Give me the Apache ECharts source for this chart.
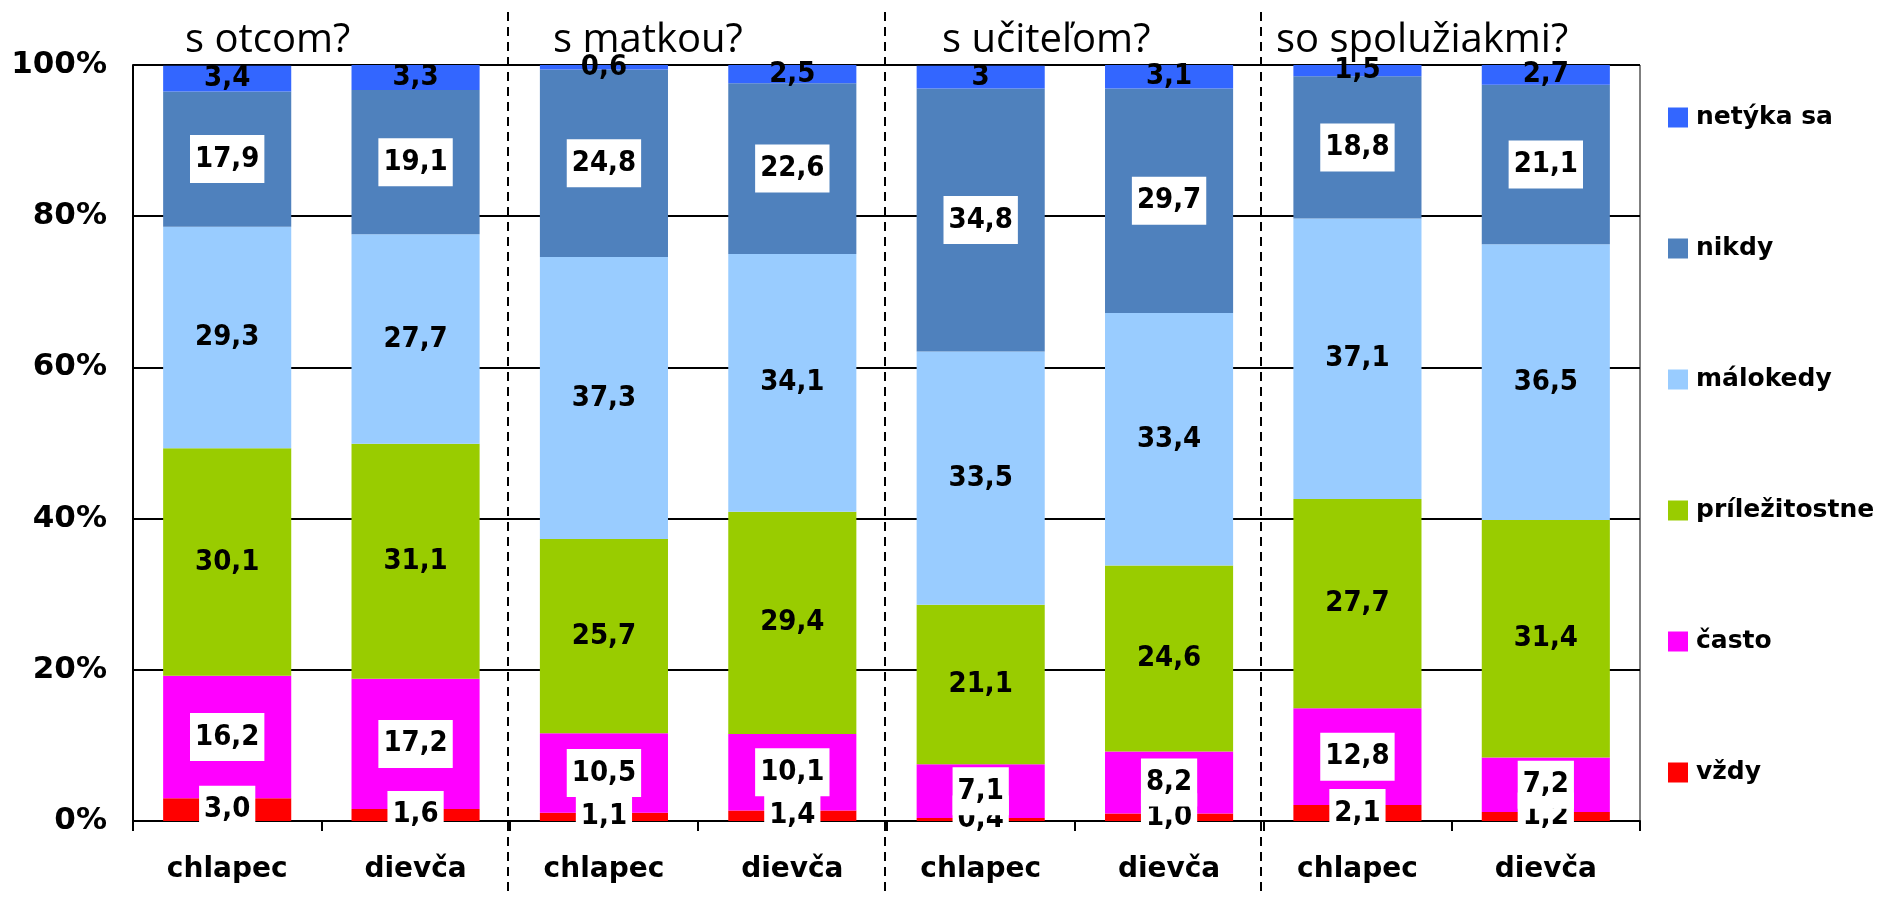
<!DOCTYPE html>
<html>
<head>
<meta charset="utf-8">
<script src="https://cdn.jsdelivr.net/npm/echarts@6/dist/echarts.min.js"></script>
<style>
html,body{margin:0;padding:0;background:#fff;}
#chart{width:1886px;height:897px;}
</style>
</head>
<body>
<div id="chart"></div>
<script>
// ---- data ----
const categories = ['chlapec', 'dievča', 'chlapec', 'dievča', 'chlapec', 'dievča', 'chlapec', 'dievča'];
const groupTitles = ['s otcom?', 's matkou?', 's učiteľom?', 'so spolužiakmi?'];
const yTicks = [0, 20, 40, 60, 80, 100];

const vzdy          = [3.0, 1.6, 1.1, 1.4, 0.4, 1.0, 2.1, 1.2];
const casto         = [16.2, 17.2, 10.5, 10.1, 7.1, 8.2, 12.8, 7.2];
const prilezitostne = [30.1, 31.1, 25.7, 29.4, 21.1, 24.6, 27.7, 31.4];
const malokedy      = [29.3, 27.7, 37.3, 34.1, 33.5, 33.4, 37.1, 36.5];
const nikdy         = [17.9, 19.1, 24.8, 22.6, 34.8, 29.7, 18.8, 21.1];
const netyka        = [3.4, 3.3, 0.6, 2.5, 3, 3.1, 1.5, 2.7];

const seriesDefs = [
  { name: 'vždy',          data: vzdy,          color: '#FF0000', box: true,  fmt: 'fixed' },
  { name: 'často',         data: casto,         color: '#FF00FF', box: true,  fmt: 'fixed' },
  { name: 'príležitostne', data: prilezitostne, color: '#99CC00', box: false, fmt: 'fixed' },
  { name: 'málokedy',      data: malokedy,      color: '#99CCFF', box: false, fmt: 'fixed' },
  { name: 'nikdy',         data: nikdy,         color: '#4F81BD', box: true,  fmt: 'fixed' },
  { name: 'netýka sa',     data: netyka,        color: '#3366FF', box: false, fmt: 'raw' }
];

const labelFont = "'DejaVu Sans Condensed', 'DejaVu Sans', sans-serif";
const axisFont = "'DejaVu Sans', sans-serif";

const chart = echarts.init(document.getElementById('chart'), null, { renderer: 'canvas' });

const series = seriesDefs.map(function (d) {
  const label = {
    show: true,
    position: 'inside',
    color: '#000',
    fontFamily: labelFont,
    fontWeight: 'bold',
    fontSize: 29,
    lineHeight: 30,
    formatter: function (p) {
      const v = p.value;
      const s = d.fmt === 'raw' ? String(v) : v.toFixed(1);
      return s.replace('.', ',');
    }
  };
  if (d.box) {
    label.backgroundColor = '#fff';
    label.padding = [9, 5];
  }
  return {
    name: d.name,
    type: 'bar',
    stack: 'total',
    barWidth: '68%',
    data: d.data,
    itemStyle: { color: d.color },
    label: label,
    emphasis: { disabled: true }
  };
});

const option = {
  animation: false,
  backgroundColor: '#fff',
  grid: {
    left: 133, right: 246, top: 65, bottom: 76,
    show: true, borderColor: '#000', borderWidth: 1, backgroundColor: 'transparent'
  },
  legend: {
    orient: 'vertical',
    left: 1663,
    top: 100,
    itemWidth: 20,
    itemHeight: 20,
    itemGap: 106,
    icon: 'rect',
    data: seriesDefs.map(function (d) { return d.name; }).reverse(),
    textStyle: {
      fontFamily: axisFont, fontWeight: 'bold', fontSize: 25, color: '#000',
      lineHeight: 20, padding: [0, 0, 0, 3]
    },
    selectedMode: false
  },
  xAxis: {
    type: 'category',
    data: categories,
    axisLine: { show: true, lineStyle: { color: '#000', width: 2 } },
    axisTick: { show: true, length: 10, lineStyle: { color: '#000', width: 2 } },
    axisLabel: {
      interval: 0, margin: 35, color: '#000',
      fontFamily: axisFont, fontWeight: 'bold', fontSize: 28
    },
    splitLine: { show: false }
  },
  yAxis: {
    type: 'value',
    min: yTicks[0],
    max: yTicks[yTicks.length - 1],
    interval: yTicks[1] - yTicks[0],
    axisLine: { show: true, lineStyle: { color: '#000', width: 2 } },
    axisTick: { show: false },
    axisLabel: {
      formatter: '{value}%', margin: 26, color: '#000',
      fontFamily: axisFont, fontWeight: 'bold', fontSize: 31
    },
    splitLine: { show: true, lineStyle: { color: '#000', width: 2 } }
  },
  series: series
};

chart.setOption(option);

// group separators (dashed) at category boundaries and group titles
const titleLeft = [185, 553, 942, 1276];
const graphics = [];
for (let g = 1; g < groupTitles.length; g++) {
  const a = chart.convertToPixel({ xAxisIndex: 0 }, g * 2 - 1);
  const b = chart.convertToPixel({ xAxisIndex: 0 }, g * 2);
  const x = Math.round((a + b) / 2) - 2;
  graphics.push({
    type: 'line',
    shape: { x1: x, y1: 12, x2: x, y2: 897 },
    style: { stroke: '#000', lineWidth: 2, lineDash: [9, 6] },
    z: 100
  });
}
groupTitles.forEach(function (t, i) {
  graphics.push({
    type: 'text',
    left: titleLeft[i],
    top: 21,
    style: {
      text: t,
      fill: '#000',
      font: "40px 'Open Sans', sans-serif"
    },
    z: 100
  });
});
chart.setOption({ graphic: graphics });
</script>
</body>
</html>
